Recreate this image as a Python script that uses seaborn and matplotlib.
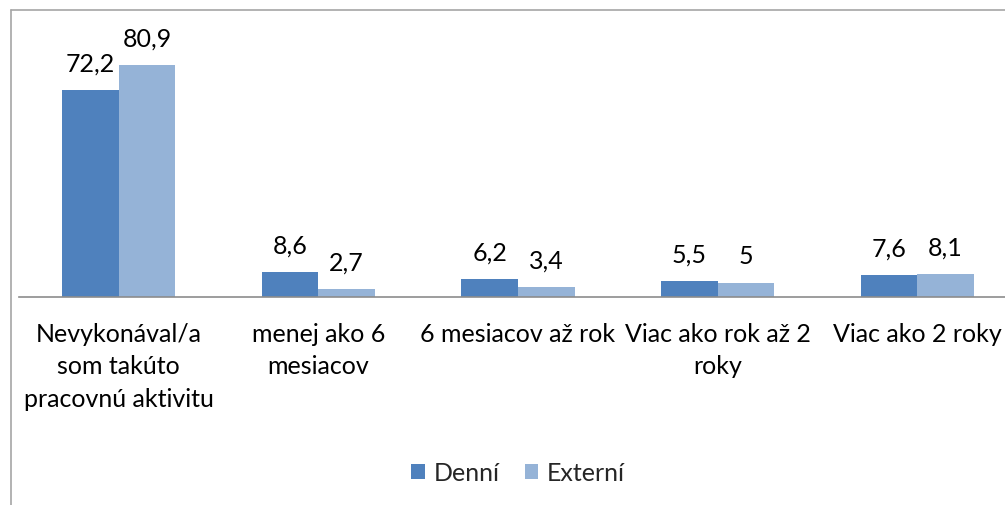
import matplotlib
matplotlib.use("Agg")
import matplotlib.pyplot as plt
import seaborn as sns
import pandas as pd
import numpy as np
from matplotlib.lines import Line2D
from matplotlib.patches import Patch

categories = [
    "Nevykonával/a\nsom takúto\npracovnú aktivitu",
    "menej ako 6\nmesiacov",
    "6 mesiacov až rok",
    "Viac ako rok až 2\nroky",
    "Viac ako 2 roky",
]
denni = [72.2, 8.6, 6.2, 5.5, 7.6]
externi = [80.9, 2.7, 3.4, 5.0, 8.1]
series_names = ["Denní", "Externí"]
colors = ["#4F81BD", "#95B3D7"]

df = pd.DataFrame({
    "kategoria": categories * 2,
    "hodnota": denni + externi,
    "skupina": [series_names[0]] * len(categories) + [series_names[1]] * len(categories),
})

sns.set_theme(style="white")
plt.rcParams["font.family"] = ["Lato", "DejaVu Sans"]

FS = 18
W, H = 1005, 506
fig = plt.figure(figsize=(W / 100, H / 100), dpi=100)
ax = fig.add_axes([19 / W, (H - 298) / H, 998 / W, (298 - 11) / H])

sns.barplot(data=df, x="kategoria", y="hodnota", hue="skupina",
            palette=colors, width=0.567, gap=0, ax=ax, legend=False,
            saturation=1, edgecolor="none")

for cont in ax.containers:
    labels = [f"{b.get_height():g}".replace(".", ",") for b in cont]
    ax.bar_label(cont, labels=labels, padding=11, fontsize=FS, color="black")

ax.set_ylim(0, 100)
ax.set_xlim(-0.5, len(categories) - 0.5)
ax.set_xlabel("")
ax.set_ylabel("")
ax.set_yticks([])
for s in ["left", "top", "right"]:
    ax.spines[s].set_visible(False)
ax.spines["bottom"].set_color("#8c8c8c")
ax.spines["bottom"].set_linewidth(1.2)
ax.tick_params(axis="x", which="major", length=0, pad=18, labelsize=FS, labelcolor="black")
ax.set_xticks(np.arange(-0.5, len(categories), 1.0), minor=True)
ax.tick_params(axis="x", which="minor", length=6, width=1.0, color="#8c8c8c", direction="out")
for t in ax.get_xticklabels():
    t.set_linespacing(1.5)
    t.set_va("top")

# chart border (left and top visible in the crop)
fig.add_artist(Line2D([10.5 / W, 10.5 / W], [0, 1 - 10.5 / H], transform=fig.transFigure,
                      color="#a6a6a6", lw=1.2))
fig.add_artist(Line2D([10.5 / W, 1], [1 - 10.5 / H, 1 - 10.5 / H], transform=fig.transFigure,
                      color="#a6a6a6", lw=1.2))

handles = [Patch(facecolor=c, edgecolor="none") for c in colors]
fig.legend(handles, series_names, loc="center", bbox_to_anchor=(518 / W, 1 - 474 / H),
           ncol=2, frameon=False, fontsize=FS, handlelength=0.55, handleheight=0.55,
           handletextpad=0.35, columnspacing=1.0)

fig.savefig("out.png", dpi=100)
